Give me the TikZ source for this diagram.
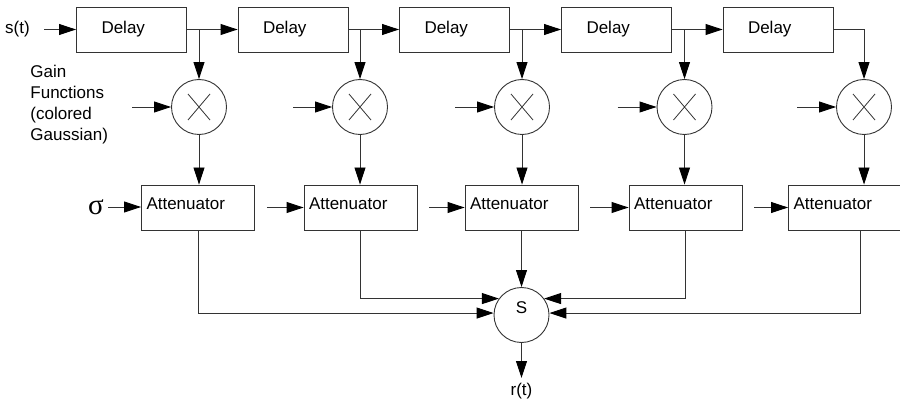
\documentclass[tikz,border=0pt]{standalone}
\usepackage{fontspec}
\setmainfont{Liberation Sans}
\newfontfamily\greekfont{Liberation Serif}
\usepackage{tikz}
\usetikzlibrary{arrows.meta,calc}

\begin{document}
\begin{tikzpicture}[x=1pt,y=-1pt,line width=0.9pt,
    every node/.style={font=\fontsize{17}{21}\selectfont},
    >={Triangle[length=17pt,width=11pt,color=black]},
    arr/.style={->,draw=black!80},
    delaybox/.style={draw=black!80,minimum width=110pt,minimum height=45pt,text width=60pt,inner xsep=25pt,inner ysep=0pt,align=left},
    attbox/.style={draw=black!80,minimum width=113pt,minimum height=45pt,text width=103pt,inner xsep=5pt,inner ysep=0pt,align=left,text depth=8.5pt},
    mixer/.style={draw=black!80,circle,minimum size=55pt,inner sep=0pt,
        path picture={\draw[draw=black!80,line width=0.8pt]
            ([shift={(-11pt,13pt)}]path picture bounding box.center) -- ([shift={(11pt,-13pt)}]path picture bounding box.center)
            ([shift={(11pt,13pt)}]path picture bounding box.center) -- ([shift={(-11pt,-13pt)}]path picture bounding box.center);}},
    adder/.style={draw=black!80,circle,minimum size=55pt,inner sep=0pt,text depth=15pt}]
\useasboundingbox (0,0) rectangle (900,401);

% Delay line
\foreach \i/\x in {1/131.5,2/293,3/454.5,4/616.5,5/778}
    \node[delaybox] (d\i) at (\x,29.5) {Delay};

% Multipliers
\foreach \i/\x in {1/199,2/360,3/522,4/684.5,5/864}
    \node[mixer] (m\i) at (\x,107) {};

% Attenuators
\foreach \i/\x in {1/198,2/360.5,3/521.5,4/685.5,5/845}
    \node[attbox] (a\i) at (\x,207.5) {Attenuator};

% Summer
\node[adder] (sum) at (521.5,315) {S};

% Labels
\node[inner sep=0pt] (st) at (17.5,29.5) {s(t)};
\node[inner sep=0pt,anchor=west,align=left] (gain) at (30,105) {Gain\\Functions\\(colored\\Gaussian)};
\node[inner sep=0pt] (sig) at (96,207) {\greekfont\fontsize{29}{29}\selectfont σ};
\node[inner sep=0pt,inner ysep=5pt,anchor=north] (rt) at (521.5,378) {r(t)};

% Delay chain and taps
\draw[arr,shorten <=14pt] (st) -- (d1);
\foreach \i/\j in {1/2,2/3,3/4,4/5} {
    \draw[arr] (d\i) -- (d\j);
    \draw[arr] (d\i.east -| m\i) -- (m\i);
}
\draw[arr] (d5.east) -| (m5);

% Gain function inputs, multiplier outputs
\foreach \i in {1,...,5} {
    \coordinate (g\i) at ([xshift=-39pt]m\i.west);
    \draw[arr] (g\i) -- (m\i);
    \draw[arr] (m\i) -- (m\i |- a\i.north);
}

% Attenuator inputs
\draw[arr,shorten <=4pt] (sig.east) -- (sig.east -| a1.west);
\foreach \i/\j in {1/2,2/3,3/4,4/5} {
    \coordinate (c\j) at ([xshift=12pt]a\i.east);
    \draw[arr] (c\j) -- (a\j);
}

% Into the summer
\draw[arr] (a3) -- (sum);
\draw[arr] (a2.south) |- (sum.144);
\draw[arr] (a4.south) |- (sum.36);
\draw[arr] (a1.south) |- (sum.176);
\draw[arr] ([xshift=15pt]a5.south) |- (sum.4);
\draw[arr] (sum) -- (rt);
\end{tikzpicture}
\end{document}
